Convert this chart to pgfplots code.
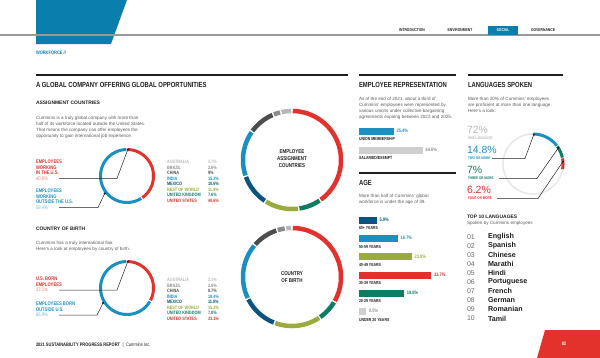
\documentclass[border=0pt]{standalone}
\usepackage{fontspec}
\setmainfont{Liberation Sans}
\newfontfamily\cond{Liberation Sans}[FakeStretch=0.8]
\usepackage{pgfplots}
\usepackage{pgfplotstable}
\pgfplotsset{compat=1.18}
\usepgfplotslibrary{polar}
\usetikzlibrary{arrows.meta}

\definecolor{cblue}{HTML}{1A8FC2}
\definecolor{cdblue}{HTML}{0B5480}
\definecolor{cred}{HTML}{E2322B}
\definecolor{cteal}{HTML}{0E7B63}
\definecolor{colive}{HTML}{9AAB3C}
\definecolor{cdgray}{HTML}{4D4D4D}
\definecolor{cgray}{HTML}{8C8C8C}
\definecolor{clgray}{HTML}{B8B8B8}
\definecolor{navblue}{HTML}{0A7FAD}
\definecolor{bodygray}{HTML}{5A5A5A}
\definecolor{barlgray}{HTML}{CFCFCF}
\definecolor{ringgray}{HTML}{E8E8E8}
\definecolor{lred}{HTML}{EE7F79}
\definecolor{lblue}{HTML}{6CB6DA}
\definecolor{ink}{HTML}{1E1E1E}
\definecolor{numgray}{HTML}{6A6A6A}

\newcommand\fHd{\cond\bfseries\fontsize{7.4}{8}\selectfont}
\newcommand\fSub{\bfseries\fontsize{5}{6}\selectfont}
\newcommand\fBody{\fontsize{4.6}{6}\selectfont}
\newcommand\fLab{\cond\bfseries\fontsize{5.2}{6}\selectfont}
\newcommand\fLeg{\cond\bfseries\fontsize{4.8}{6}\selectfont}
\newcommand\fCtr{\cond\bfseries\fontsize{5.6}{7}\selectfont}
\newcommand\fNav{\cond\bfseries\fontsize{4.2}{5}\selectfont}
\newcommand\fWf{\cond\bfseries\fontsize{5}{6}\selectfont}
\newcommand\fBl{\cond\bfseries\fontsize{4.4}{5}\selectfont}
\newcommand\fPct{\cond\bfseries\fontsize{5}{6}\selectfont}
\newcommand\fBig{\fontsize{10.5}{12}\selectfont}
\newcommand\fLsm{\cond\bfseries\fontsize{3.8}{4.5}\selectfont}
\newcommand\fNum{\fontsize{7}{8}\selectfont}
\newcommand\fName{\bfseries\fontsize{7.2}{8}\selectfont}
\newcommand\fFoot{\cond\fontsize{5}{6}\selectfont}

% ---------------- data ----------------
\pgfplotstableread[col sep=comma,row sep=\\]{
name,value,color\\
AUSTRALIA,3.7,clgray\\
BRAZIL,2.6,cgray\\
CHINA,9,cdgray\\
INDIA,15.3,cblue\\
MEXICO,10.6,cdblue\\
REST OF WORLD,11.4,colive\\
UNITED KINGDOM,7.6,cteal\\
UNITED STATES,40.6,cred\\
}\assigntbl
\pgfplotstableread[col sep=comma,row sep=\\]{
name,value,color\\
AUSTRALIA,2.1,clgray\\
BRAZIL,2.8,cgray\\
CHINA,8.7,cdgray\\
INDIA,18.4,cblue\\
MEXICO,11.8,cdblue\\
REST OF WORLD,15.2,colive\\
UNITED KINGDOM,7.0,cteal\\
UNITED STATES,33.1,cred\\
}\birthtbl
\pgfplotstableread[col sep=comma,row sep=\\]{
name,value,color\\
OUTSIDE,59.4,cblue\\
US,40.6,cred\\
}\assignus
\pgfplotstableread[col sep=comma,row sep=\\]{
name,value,color\\
OUTSIDE,66.9,cblue\\
US,33.1,cred\\
}\birthus
\pgfplotstableread[col sep=comma,row sep=\\]{
name,value,color\\
FOUR,6.2,cred\\
THREE,7,cteal\\
TWO,14.8,cblue\\
}\langtbl

% sum of the value column
\newcommand\colsum[1]{%
  \pgfplotstablegetrowsof{#1}\pgfmathtruncatemacro\nrows{\pgfplotsretval-1}%
  \gdef\thesum{0}%
  \pgfplotsforeachungrouped \i in {0,...,\nrows}{%
    \pgfplotstablegetelem{\i}{value}\of{#1}%
    \pgfmathsetmacro\tmpS{\thesum+\pgfplotsretval}\global\let\thesum\tmpS}}
% ring segments: #1 table, #2 start angle, #3 total, #4 width, #5 half gap
\newcommand\donut[5]{%
  \pgfplotstablegetrowsof{#1}\pgfmathtruncatemacro\nrows{\pgfplotsretval-1}%
  \gdef\cumv{0}%
  \pgfplotsforeachungrouped \i in {0,...,\nrows}{%
    \pgfplotstablegetelem{\i}{value}\of{#1}\let\segval\pgfplotsretval
    \pgfplotstablegetelem{\i}{color}\of{#1}\let\segcol\pgfplotsretval
    \pgfmathsetmacro\dA{#2+\cumv/#3*360+#5}%
    \pgfmathsetmacro\dB{#2+(\cumv+\segval)/#3*360-#5}%
    \pgfmathsetmacro\cumnew{\cumv+\segval}\global\let\cumv\cumnew
    \edef\doplot{\noexpand\addplot[domain=\dA:\dB,samples=60,draw=\segcol,line width=#4,no marks]{1};}%
    \doplot}}
% one horizontal bar: #1 x0, #2 yc, #3 width, #4 xmax, #5 stub, #6 value, #7 fill, #8 text colour
\newcommand\rowbar[8]{%
  \begin{axis}[at={(#1bp,-#2bp)},anchor=west,scale only axis,width=#3,height=6bp,
    xmin=0,xmax=#4,ymin=0.5,ymax=1.5,hide axis,xbar stacked,bar width=6bp,clip=false]
  \addplot[fill=#7,draw=#7,line width=0.2bp] coordinates {(#5,1)};
  \addplot[fill=#7,draw=#7,line width=0.2bp] coordinates {(#6,1)};
  \node[anchor=west,inner sep=0pt,font=\fPct,text=#8,xshift=3.5bp] at (axis cs:{#5+#6},1) {#6\%};
  \end{axis}}

\begin{document}
\begin{tikzpicture}[t/.style={anchor=west,inner sep=0pt,outer sep=0pt}]
\useasboundingbox (0,0) rectangle (600bp,-358bp);
\begin{scope}[x=1bp,y=-1bp]
% header
\fill[navblue] (36,0) -- (127,0) -- (111,44) -- (36,44) -- cycle;
\draw[gray!80, line width=1.2bp] (0,35) -- (600,35);
\fill[navblue] (488,25.5) rectangle (518,35);
\node[font=\fNav,text=ink] at (412,30.5) {INTRODUCTION};
\node[font=\fNav,text=ink] at (460,30.5) {ENVIRONMENT};
\node[font=\fNav,text=white] at (503,30.5) {SOCIAL};
\node[font=\fNav,text=ink] at (543,30.5) {GOVERNANCE};
\node[t,font=\fWf,text=navblue] at (36,53) {WORKFORCE //};
% rules
\draw[ink,line width=1.8bp] (36,75) -- (348,75);
\draw[ink,line width=1.8bp] (359,75) -- (456,75);
\draw[ink,line width=1.8bp] (468,75) -- (563,75);
\draw[ink,line width=1.8bp] (359,173) -- (456,173);
% headings
\node[t,font=\fHd,text=ink] at (36,85) {A GLOBAL COMPANY OFFERING GLOBAL OPPORTUNITIES};
\node[t,font=\fHd,text=ink] at (359,85) {EMPLOYEE REPRESENTATION};
\node[t,font=\fHd,text=ink] at (468,85) {LANGUAGES SPOKEN};
\node[t,font=\fHd,text=ink] at (359,183) {AGE};
% left column texts
\node[t,font=\fSub,text=ink] at (36,103) {ASSIGNMENT COUNTRIES};
\node[t,font=\fBody,text=bodygray] at (36,118) {Cummins is a truly global company with more than};
\node[t,font=\fBody,text=bodygray] at (36,124) {half of its workforce located outside the United States.};
\node[t,font=\fBody,text=bodygray] at (36,130) {That means the company can offer employees the};
\node[t,font=\fBody,text=bodygray] at (36,136) {opportunity to gain international job experience.};
\node[t,font=\fLab,text=cred] at (36,162) {EMPLOYEES};
\node[t,font=\fLab,text=cred] at (36,167.5) {WORKING};
\node[t,font=\fLab,text=cred] at (36,173) {IN THE U.S.};
\node[t,font=\fLab\mdseries,text=lred] at (36,178.5) {40.6\%};
\node[t,font=\fLab,text=cblue] at (36,191) {EMPLOYEES};
\node[t,font=\fLab,text=cblue] at (36,196.5) {WORKING};
\node[t,font=\fLab,text=cblue] at (36,202) {OUTSIDE THE U.S.};
\node[t,font=\fLab\mdseries,text=lblue] at (36,207.5) {59.4\%};
\node[t,font=\fSub,text=ink] at (36,229) {COUNTRY OF BIRTH};
\node[t,font=\fBody,text=bodygray] at (36,243) {Cummins has a truly international flair.};
\node[t,font=\fBody,text=bodygray] at (36,249) {Here’s a look at employees by country of birth.};
\node[t,font=\fLab,text=cred] at (36,279) {U.S. BORN};
\node[t,font=\fLab,text=cred] at (36,284.5) {EMPLOYEES};
\node[t,font=\fLab\mdseries,text=lred] at (36,290) {33.1\%};
\node[t,font=\fLab,text=cblue] at (36,304) {EMPLOYEES BORN};
\node[t,font=\fLab,text=cblue] at (36,309.5) {OUTSIDE U.S.};
\node[t,font=\fLab\mdseries,text=lblue] at (36,315) {66.9\%};
% legends
\foreach \i in {0,...,7}{
  \pgfplotstablegetelem{\i}{name}\of\assigntbl\let\lnm\pgfplotsretval
  \pgfplotstablegetelem{\i}{value}\of\assigntbl\let\lvl\pgfplotsretval
  \pgfplotstablegetelem{\i}{color}\of\assigntbl\let\lcol\pgfplotsretval
  \node[t,font=\fLeg,text=\lcol] at (167,162+5.5*\i) {\lnm};
  \node[t,font=\fLeg,text=\lcol] at (208,162+5.5*\i) {\lvl\%};
}
\foreach \i in {0,...,7}{
  \pgfplotstablegetelem{\i}{name}\of\birthtbl\let\lnm\pgfplotsretval
  \pgfplotstablegetelem{\i}{value}\of\birthtbl\let\lvl\pgfplotsretval
  \pgfplotstablegetelem{\i}{color}\of\birthtbl\let\lcol\pgfplotsretval
  \node[t,font=\fLeg,text=\lcol] at (167,280+5.5*\i) {\lnm};
  \node[t,font=\fLeg,text=\lcol] at (208,280+5.5*\i) {\lvl\%};
}
% donut centre texts
\node[font=\fCtr,text=ink,align=center,inner sep=0pt] at (292,159) {EMPLOYEE\\ASSIGNMENT\\COUNTRIES};
\node[font=\fCtr,text=ink,align=center,inner sep=0pt] at (292,277.5) {COUNTRY\\OF BIRTH};
% representation texts
\node[t,font=\fBody,text=bodygray] at (359,99) {As of the end of 2021, about a third of};
\node[t,font=\fBody,text=bodygray] at (359,105) {Cummins’ employees were represented by};
\node[t,font=\fBody,text=bodygray] at (359,111) {various unions under collective bargaining};
\node[t,font=\fBody,text=bodygray] at (359,117) {agreements expiring between 2022 and 2025.};
\node[t,font=\fBl,text=ink] at (359,138.5) {UNION MEMBERSHIP};
\node[t,font=\fBl,text=ink] at (359,158) {SALARIED/EXEMPT};
% age texts
\node[t,font=\fBody,text=bodygray] at (359,196) {More than half of Cummins’ global};
\node[t,font=\fBody,text=bodygray] at (359,202) {workforce is under the age of 39.};
\node[t,font=\fBl,text=ink] at (359,228) {60+ YEARS};
\node[t,font=\fBl,text=ink] at (359,246.5) {50-59 YEARS};
\node[t,font=\fBl,text=ink] at (359,264.5) {40-49 YEARS};
\node[t,font=\fBl,text=ink] at (359,283) {30-39 YEARS};
\node[t,font=\fBl,text=ink] at (359,301) {20-29 YEARS};
\node[t,font=\fBl,text=ink] at (359,319.5) {UNDER 20 YEARS};
% languages texts
\node[t,font=\fBody,text=bodygray] at (468,99) {More than 20\% of Cummins’ employees};
\node[t,font=\fBody,text=bodygray] at (468,105) {are proficient at more than one language.};
\node[t,font=\fBody,text=bodygray] at (468,111) {Here’s a look:};
\node[t,font=\fBig,text=clgray] at (467,130) {72\%};
\node[t,font=\fLsm,text=clgray] at (468,138.5) {ONE LANGUAGE};
\node[t,font=\fBig,text=cblue] at (467,150) {14.8\%};
\node[t,font=\fLsm,text=cblue] at (468,158.5) {TWO OR MORE};
\node[t,font=\fBig,text=cteal] at (467,170) {7\%};
\node[t,font=\fLsm,text=cteal] at (468,178.5) {THREE OR MORE};
\node[t,font=\fBig,text=cred] at (467,190) {6.2\%};
\node[t,font=\fLsm,text=cred] at (468,198.5) {FOUR OR MORE};
\node[t,font=\fSub,text=ink] at (467,217) {TOP 10 LANGUAGES};
\node[t,font=\fBody,text=bodygray] at (467,223) {Spoken by Cummins employees};
\foreach \n/\l [count=\k from 0] in {01/English,02/Spanish,03/Chinese,04/Marathi,05/Hindi,06/Portuguese,07/French,08/German,09/Romanian,10/Tamil}{
  \node[t,font=\fNum,text=numgray] at (467,237+9.05*\k) {\n};
  \node[t,font=\fName,text=ink] at (488,237+9.05*\k) {\l};
}
% footer
\node[t,font=\fFoot,text=ink] at (36,345) {{\bfseries 2021 SUSTAINABILITY PROGRESS REPORT}\enspace|\enspace Cummins Inc.};
\fill[cred] (545,330) -- (600,330) -- (600,358) -- (537,358) -- cycle;
\node[font=\fWf,text=white] at (564,344) {82};
\end{scope}

% ---------------- donuts ----------------
\begin{polaraxis}[at={(127bp,-176bp)},anchor=center,scale only axis,width=53bp,height=53bp,
  hide axis,xmin=0,xmax=360,ymin=0,ymax=1,clip=false]
  \colsum{\assignus}\donut{\assignus}{90}{\thesum}{3bp}{1.5}
\end{polaraxis}
\begin{polaraxis}[at={(292bp,-160bp)},anchor=center,scale only axis,width=98bp,height=98bp,
  hide axis,xmin=0,xmax=360,ymin=0,ymax=1,clip=false]
  \colsum{\assigntbl}\donut{\assigntbl}{90}{\thesum}{4.5bp}{0.9}
\end{polaraxis}
\begin{polaraxis}[at={(127bp,-288bp)},anchor=center,scale only axis,width=53bp,height=53bp,
  hide axis,xmin=0,xmax=360,ymin=0,ymax=1,clip=false]
  \colsum{\birthus}\donut{\birthus}{90}{\thesum}{3bp}{1.5}
\end{polaraxis}
\begin{polaraxis}[at={(292bp,-277bp)},anchor=center,scale only axis,width=98bp,height=98bp,
  hide axis,xmin=0,xmax=360,ymin=0,ymax=1,clip=false]
  \colsum{\birthtbl}\donut{\birthtbl}{90}{\thesum}{4.5bp}{0.9}
\end{polaraxis}
\begin{polaraxis}[at={(533bp,-164bp)},anchor=center,scale only axis,width=60bp,height=60bp,
  hide axis,xmin=0,xmax=360,ymin=0,ymax=1,clip=false]
  \addplot[domain=0:360,samples=120,draw=ringgray,line width=1.6bp,no marks]{1};
  \colsum{\langtbl}\pgfmathsetmacro\lstart{90-3.6*\thesum}
  \donut{\langtbl}{\lstart}{100}{3bp}{0.8}
\end{polaraxis}

% ---------------- bars ----------------
\rowbar{359}{131}{74bp}{100}{20.5}{25.4}{cblue}{cblue}
\rowbar{359}{150}{74bp}{100}{20.5}{64.6}{barlgray}{cgray}
\rowbar{359}{220}{98bp}{50}{2.7}{5.9}{cdblue}{cdblue}
\rowbar{359}{238.2}{98bp}{50}{2.7}{16.7}{cblue}{cblue}
\rowbar{359}{256.4}{98bp}{50}{2.7}{23.8}{colive}{colive}
\rowbar{359}{274.6}{98bp}{50}{2.7}{33.7}{cred}{cred}
\rowbar{359}{292.8}{98bp}{50}{2.7}{19.8}{cteal}{cteal}
\rowbar{359}{311}{98bp}{50}{2.7}{0.5}{barlgray}{cgray}

% ---------------- leader lines ----------------
\begin{scope}[x=1bp,y=-1bp,line width=0.5bp,draw=ink]
\draw[-{Circle[length=2.2bp]}] (59,178.5) -- (117,178.5) -- (128.2,148.5);
\draw[-{Circle[length=2.2bp]}] (59,207.5) -- (98,207.5) -- (105.2,192.5);
\draw[-{Circle[length=2.2bp]}] (59,290) -- (117,290) -- (128.2,260.5);
\draw[-{Circle[length=2.2bp]}] (59,315) -- (97,315) -- (103.6,302);
\draw[-{Circle[length=2.2bp]}] (492,158.5) -- (525,158.5) -- (534.2,133.5);
\draw[-{Circle[length=2.2bp]}] (499,178.5) -- (537,178.5) -- (558.8,147.2);
\draw[-{Circle[length=2.2bp]}] (497,198.5) -- (538,198.5) -- (563.5,160.8);
\end{scope}
\end{tikzpicture}
\end{document}
